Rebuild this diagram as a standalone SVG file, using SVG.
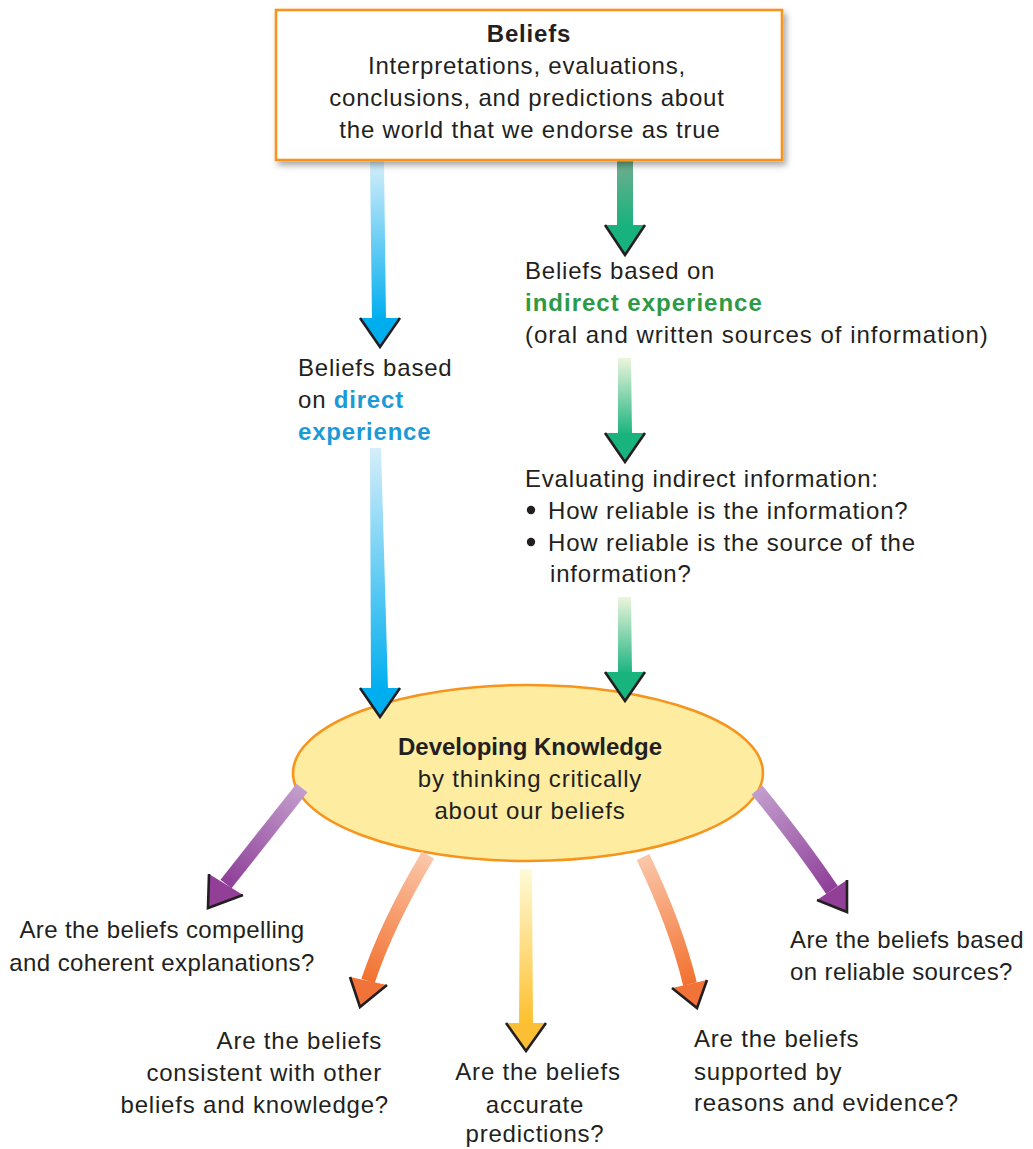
<svg xmlns="http://www.w3.org/2000/svg" width="1033" height="1149" viewBox="0 0 1033 1149">
  <style>
    text { font-family: "Liberation Sans", Arial, sans-serif; font-size: 24px; fill: #231f20; letter-spacing: 0.8px; }
    .b { font-weight: bold; }
    .mid { text-anchor: middle; }
    .end { text-anchor: end; }
    .tight { letter-spacing: 0.4px; }
    .blue { fill: #1b9ad6; font-weight: bold; }
    .green { fill: #2c9a47; font-weight: bold; }
    .head { stroke: #231f20; stroke-width: 2.6; stroke-linejoin: miter; }
    .curve { fill: none; stroke-width: 14; stroke-linecap: butt; }
  </style>
  <defs>
    <filter id="shadow" x="-5%" y="-10%" width="115%" height="130%">
      <feDropShadow dx="3" dy="4" stdDeviation="3" flood-color="#000" flood-opacity="0.35"/>
    </filter>
    <linearGradient id="gBlue" x1="0" y1="0" x2="0" y2="1">
      <stop offset="0" stop-color="#d6eefa"/>
      <stop offset="1" stop-color="#00aeef"/>
    </linearGradient>
    <linearGradient id="gGreenTop" x1="0" y1="0" x2="0" y2="1">
      <stop offset="0" stop-color="#6fae8e"/>
      <stop offset="1" stop-color="#17b27d"/>
    </linearGradient>
    <linearGradient id="gGreen" x1="0" y1="0" x2="0" y2="1">
      <stop offset="0" stop-color="#ecf5dc"/>
      <stop offset="1" stop-color="#19b37e"/>
    </linearGradient>
    <linearGradient id="gYellow" x1="0" y1="0" x2="0" y2="1">
      <stop offset="0" stop-color="#fffbd8"/>
      <stop offset="1" stop-color="#fdbf2d"/>
    </linearGradient>
    <linearGradient id="gPurpleL" gradientUnits="userSpaceOnUse" x1="302" y1="788" x2="226" y2="884">
      <stop offset="0" stop-color="#c39ecd"/>
      <stop offset="1" stop-color="#8e3f98"/>
    </linearGradient>
    <linearGradient id="gPurpleR" gradientUnits="userSpaceOnUse" x1="757" y1="790" x2="832" y2="890">
      <stop offset="0" stop-color="#c39ecd"/>
      <stop offset="1" stop-color="#8e3f98"/>
    </linearGradient>
    <linearGradient id="gOrangeL" gradientUnits="userSpaceOnUse" x1="428" y1="855" x2="368" y2="981">
      <stop offset="0" stop-color="#fbc7aa"/>
      <stop offset="1" stop-color="#f2712f"/>
    </linearGradient>
    <linearGradient id="gOrangeR" gradientUnits="userSpaceOnUse" x1="643" y1="857" x2="690" y2="984">
      <stop offset="0" stop-color="#fbc7aa"/>
      <stop offset="1" stop-color="#f2712f"/>
    </linearGradient>
  </defs>

  <rect width="1033" height="1149" fill="#ffffff"/>

  <!-- central ellipse -->
  <g id="knowledge">
    <ellipse cx="528" cy="773" rx="235" ry="88" fill="#feeca0" stroke="#f7941d" stroke-width="2.6"/>
    <text class="b mid" x="530" y="755" style="letter-spacing:0">Developing Knowledge</text>
    <text class="mid" x="530" y="787">by thinking critically</text>
    <text class="mid" x="530" y="819">about our beliefs</text>
  </g>

  <!-- arrows between the statements -->
  <g id="connectors">
    <!-- beliefs to direct experience -->
    <polygon points="370,161 384,161 386,320 372,320" fill="url(#gBlue)"/>
    <path d="M360,318 L380,347 L400,318 Z" fill="#00aeef"/>
    <path class="head" d="M360,318 L380,347 L400,318" fill="none"/>
    <!-- direct experience to knowledge -->
    <polygon points="370,448 381,448 388,690 371,690" fill="url(#gBlue)"/>
    <path d="M360,688 L380,717 L400,688 Z" fill="#00aeef"/>
    <path class="head" d="M360,688 L380,717 L400,688" fill="none"/>
    <!-- beliefs to indirect experience -->
    <polygon points="617,161 633,161 633,227 617,227" fill="url(#gGreenTop)"/>
    <path d="M605,225 L625,255 L645,225 Z" fill="#17b27d"/>
    <path class="head" d="M605,225 L625,255 L645,225" fill="none"/>
    <!-- indirect experience to evaluation -->
    <polygon points="618,358 631,358 632,435 618,435" fill="url(#gGreen)"/>
    <path d="M605,433 L625,462 L645,433 Z" fill="#19b37e"/>
    <path class="head" d="M605,433 L625,462 L645,433" fill="none"/>
    <!-- evaluation to knowledge -->
    <polygon points="618,597 631,597 632,674 618,674" fill="url(#gGreen)"/>
    <path d="M605,672 L625,701 L645,672 Z" fill="#19b37e"/>
    <path class="head" d="M605,672 L625,701 L645,672" fill="none"/>

    <!-- knowledge to the five questions -->
    <path class="curve" d="M302,788 Q263,837 226,884" stroke="url(#gPurpleL)"/>
    <path d="M209,874 L208,908 L243,895 Z" fill="#923f98"/>
    <path class="head" d="M209,874 L208,908 L243,895" fill="none"/>

    <path class="curve" d="M428,855 Q387,924 368,981" stroke="url(#gOrangeL)"/>
    <path d="M350,977 L360,1007 L387,985 Z" fill="#f2733a"/>
    <path class="head" d="M350,977 L360,1007 L387,985" fill="none"/>

    <polygon points="520,869 532,869 533,1025 519,1025" fill="url(#gYellow)"/>
    <path d="M506,1023 L526,1051 L546,1023 Z" fill="#fbbf35"/>
    <path class="head" d="M506,1023 L526,1051 L546,1023" fill="none"/>

    <path class="curve" d="M643,857 Q676,926 690,984" stroke="url(#gOrangeR)"/>
    <path d="M672,988 L697,1008 L707,980 Z" fill="#f2733a"/>
    <path class="head" d="M672,988 L697,1008 L707,980" fill="none"/>

    <path class="curve" d="M757,790 Q801,844 832,890" stroke="url(#gPurpleR)"/>
    <path d="M817,900 L847,912 L847,880 Z" fill="#923f98"/>
    <path class="head" d="M817,900 L847,912 L847,880" fill="none"/>
  </g>

  <!-- beliefs box -->
  <g id="beliefs">
    <rect x="276" y="10" width="506" height="150" fill="#ffffff" stroke="#f7941d" stroke-width="2.6" filter="url(#shadow)"/>
    <text class="b mid" x="529" y="42">Beliefs</text>
    <text class="mid" x="527" y="74">Interpretations, evaluations,</text>
    <text class="mid" x="527" y="106">conclusions, and predictions about</text>
    <text class="mid" x="530" y="138">the world that we endorse as true</text>
  </g>

  <g id="direct-experience">
    <text x="298" y="376">Beliefs based</text>
    <text x="298" y="408">on <tspan class="blue">direct</tspan></text>
    <text x="298" y="440" class="blue">experience</text>
  </g>

  <g id="indirect-experience">
    <text x="525" y="279">Beliefs based on</text>
    <text x="525" y="311" class="green" style="letter-spacing:1px">indirect experience</text>
    <text x="525" y="343" style="letter-spacing:1px">(oral and written sources of information)</text>
  </g>

  <g id="evaluating">
    <text x="525" y="487">Evaluating indirect information:</text>
    <circle cx="531" cy="510" r="4.2" fill="#231f20"/>
    <text x="548" y="519">How reliable is the information?</text>
    <circle cx="531" cy="542" r="4.2" fill="#231f20"/>
    <text x="548" y="551">How reliable is the source of the</text>
    <text x="550" y="582">information?</text>
  </g>

  <g id="q-explanations">
    <text class="mid tight" x="162" y="938">Are the beliefs compelling</text>
    <text class="mid tight" x="162" y="971">and coherent explanations?</text>
  </g>

  <g id="q-consistent">
    <text class="end" x="382" y="1049">Are the beliefs</text>
    <text class="end" x="382" y="1081">consistent with other</text>
    <text class="end" x="389" y="1113">beliefs and knowledge?</text>
  </g>

  <g id="q-predictions">
    <text class="mid" x="538" y="1080">Are the beliefs</text>
    <text class="mid" x="535" y="1113">accurate</text>
    <text class="mid" x="535" y="1142">predictions?</text>
  </g>

  <g id="q-evidence">
    <text x="694" y="1047">Are the beliefs</text>
    <text x="694" y="1080">supported by</text>
    <text x="694" y="1111">reasons and evidence?</text>
  </g>

  <g id="q-sources">
    <text class="tight" x="790" y="948">Are the beliefs based</text>
    <text class="tight" x="790" y="980">on reliable sources?</text>
  </g>
</svg>
